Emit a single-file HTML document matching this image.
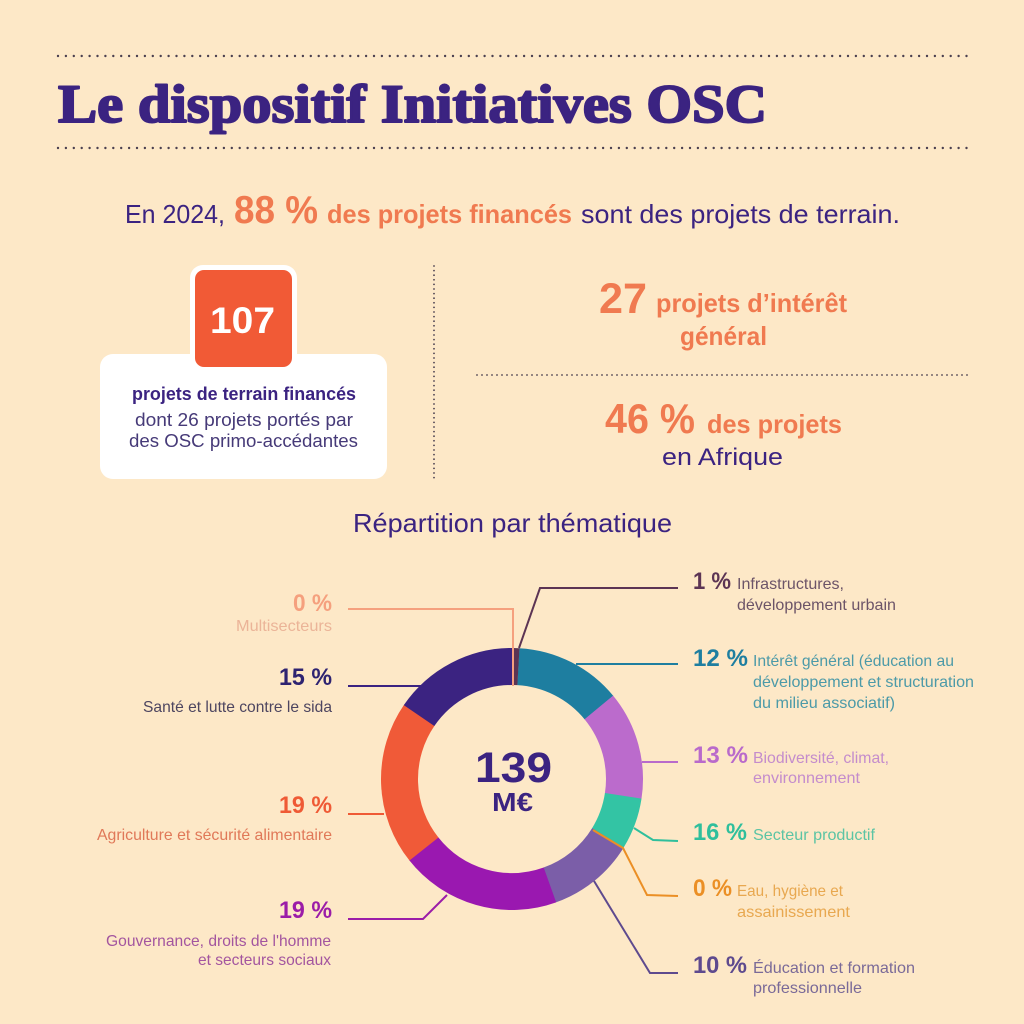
<!DOCTYPE html>
<html><head><meta charset="utf-8"><style>
html,body{margin:0;padding:0;background:#fde8c7;}
svg{display:block;}
text{font-family:"Liberation Sans",sans-serif;}
</style></head><body>
<svg width="1024" height="1024" viewBox="0 0 1024 1024" xmlns="http://www.w3.org/2000/svg">
<rect width="1024" height="1024" fill="#fde8c7"/>

<!-- top dotted lines -->
<line x1="58" y1="56" x2="968" y2="56" stroke="#4b4050" stroke-width="2.4" stroke-linecap="round" stroke-dasharray="0 7.9"/>
<line x1="58" y1="148" x2="968" y2="148" stroke="#4b4050" stroke-width="2.4" stroke-linecap="round" stroke-dasharray="0 7.9"/>

<!-- title -->
<text x="58" y="122" font-weight="bold" font-size="54" fill="#3b2381" stroke="#3b2381" stroke-width="2" stroke-linejoin="round" textLength="709" lengthAdjust="spacingAndGlyphs" style="font-family:'Liberation Serif',serif">Le dispositif Initiatives OSC</text>

<!-- sentence -->
<text x="125" y="223" font-size="26" fill="#3b2381" textLength="100" lengthAdjust="spacingAndGlyphs">En 2024,</text>
<text x="234" y="223" font-size="39" font-weight="bold" fill="#f07a50" textLength="84" lengthAdjust="spacingAndGlyphs">88 %</text>
<text x="327" y="223" font-size="26" font-weight="bold" fill="#f07a50" textLength="245" lengthAdjust="spacingAndGlyphs">des projets financés</text>
<text x="581" y="223" font-size="26" fill="#3b2381" textLength="319" lengthAdjust="spacingAndGlyphs">sont des projets de terrain.</text>

<!-- left box -->
<rect x="100" y="354" width="287" height="125" rx="13" fill="#ffffff"/>
<rect x="190" y="265" width="107" height="107" rx="13" fill="#ffffff"/>
<rect x="195" y="270" width="97" height="97" rx="9" fill="#f15a36"/>
<text x="210" y="333" font-size="37" font-weight="bold" fill="#ffffff" textLength="65" lengthAdjust="spacingAndGlyphs">107</text>
<text x="132" y="400" font-size="18" font-weight="bold" fill="#3b2381" textLength="224" lengthAdjust="spacingAndGlyphs">projets de terrain financés</text>
<text x="135" y="426" font-size="18" fill="#463a78" textLength="218" lengthAdjust="spacingAndGlyphs">dont 26 projets portés par</text>
<text x="129" y="447" font-size="18" fill="#463a78" textLength="229" lengthAdjust="spacingAndGlyphs">des OSC primo-accédantes</text>

<!-- vertical dotted -->
<line x1="434" y1="266" x2="434" y2="480" stroke="#4b4050" stroke-width="1.8" stroke-linecap="round" stroke-dasharray="0 4.6"/>

<!-- right stats -->
<text x="599" y="313" font-size="43" font-weight="bold" fill="#f07a50" textLength="48" lengthAdjust="spacingAndGlyphs">27</text>
<text x="656" y="312" font-size="26" font-weight="bold" fill="#f07a50" textLength="191" lengthAdjust="spacingAndGlyphs">projets d’intérêt</text>
<text x="680" y="345" font-size="26" font-weight="bold" fill="#f07a50" textLength="87" lengthAdjust="spacingAndGlyphs">général</text>
<line x1="477" y1="375" x2="968" y2="375" stroke="#4b4050" stroke-width="1.8" stroke-linecap="round" stroke-dasharray="0 5"/>
<text x="605" y="433" font-size="42" font-weight="bold" fill="#f07a50" textLength="90" lengthAdjust="spacingAndGlyphs">46 %</text>
<text x="707" y="433" font-size="26" font-weight="bold" fill="#f07a50" textLength="135" lengthAdjust="spacingAndGlyphs">des projets</text>
<text x="662" y="465" font-size="24" fill="#3b2381" textLength="121" lengthAdjust="spacingAndGlyphs">en Afrique</text>

<!-- section title -->
<text x="353" y="532" font-size="26" fill="#3b2381" textLength="319" lengthAdjust="spacingAndGlyphs">Répartition par thématique</text>

<!-- donut -->
<g fill="none" stroke-width="37">
<circle cx="512" cy="779" r="112.5" stroke="#1e7ea0" stroke-dasharray="93.4 800" transform="rotate(-86.8 512 779)"/>
<circle cx="512" cy="779" r="112.5" stroke="#bb6bcc" stroke-dasharray="94.9 800" transform="rotate(-39.5 512 779)"/>
<circle cx="512" cy="779" r="112.5" stroke="#33c4a4" stroke-dasharray="45.5 800" transform="rotate(8.6 512 779)"/>
<circle cx="512" cy="779" r="112.5" stroke="#7b5ea8" stroke-dasharray="76.7 800" transform="rotate(31.5 512 779)"/>
<circle cx="512" cy="779" r="112.5" stroke="#9a18b0" stroke-dasharray="140.3 800" transform="rotate(70.3 512 779)"/>
<circle cx="512" cy="779" r="112.5" stroke="#f05a38" stroke-dasharray="143.4 800" transform="rotate(141.5 512 779)"/>
<circle cx="512" cy="779" r="112.5" stroke="#3b2381" stroke-dasharray="110 800" transform="rotate(214.3 512 779)"/>
<circle cx="512" cy="779" r="112.5" stroke="#5c3454" stroke-dasharray="5.3 800" transform="rotate(-89.4 512 779)"/>
</g>
<text x="475" y="782" font-size="43" font-weight="bold" fill="#3b2381" textLength="77" lengthAdjust="spacingAndGlyphs">139</text>
<text x="492" y="811" font-size="26" font-weight="bold" fill="#3b2381" textLength="41" lengthAdjust="spacingAndGlyphs">M€</text>

<!-- leader lines -->
<g fill="none" stroke-width="2">
<polyline points="348,609 513,609 513,686" stroke="#f5a07e"/>
<polyline points="348,686 421,686" stroke="#3b2381"/>
<polyline points="348,814 384,814" stroke="#ef5a35"/>
<polyline points="348,919 423,919 447,895" stroke="#9b1ca8"/>
<polyline points="678,588 540,588 519,648" stroke="#5c3454"/>
<polyline points="678,664 576,664" stroke="#1e7ea0"/>
<polyline points="678,762 642,762" stroke="#b96acb"/>
<polyline points="678,841 653,840 634,828" stroke="#2fbf9c"/>
<polyline points="593,830 623,848 647,895 678,896" stroke="#eb8f25"/>
<polyline points="678,973 650,973 594,881" stroke="#5e4a8e"/>
</g>

<!-- left labels -->
<text x="293" y="611" font-size="24" font-weight="bold" fill="#f5a07e" textLength="39" lengthAdjust="spacingAndGlyphs">0 %</text>
<text x="236" y="631" font-size="16" fill="#ebb498" textLength="96" lengthAdjust="spacingAndGlyphs">Multisecteurs</text>
<text x="279" y="685" font-size="24" font-weight="bold" fill="#2e2371" textLength="53" lengthAdjust="spacingAndGlyphs">15 %</text>
<text x="143" y="712" font-size="16" fill="#4d4560" textLength="189" lengthAdjust="spacingAndGlyphs">Santé et lutte contre le sida</text>
<text x="279" y="813" font-size="24" font-weight="bold" fill="#ef5a35" textLength="53" lengthAdjust="spacingAndGlyphs">19 %</text>
<text x="97" y="840" font-size="16" fill="#e07858" textLength="235" lengthAdjust="spacingAndGlyphs">Agriculture et sécurité alimentaire</text>
<text x="279" y="918" font-size="24" font-weight="bold" fill="#9b1ca8" textLength="53" lengthAdjust="spacingAndGlyphs">19 %</text>
<text x="106" y="946" font-size="16" fill="#a3559f" textLength="225" lengthAdjust="spacingAndGlyphs">Gouvernance, droits de l'homme</text>
<text x="198" y="965" font-size="16" fill="#a3559f" textLength="133" lengthAdjust="spacingAndGlyphs">et secteurs sociaux</text>

<!-- right labels -->
<text x="693" y="589" font-size="24" font-weight="bold" fill="#5c3454" textLength="38" lengthAdjust="spacingAndGlyphs">1 %</text>
<text x="737" y="589" font-size="16" fill="#6c5468" textLength="107" lengthAdjust="spacingAndGlyphs">Infrastructures,</text>
<text x="737" y="610" font-size="16" fill="#6c5468" textLength="159" lengthAdjust="spacingAndGlyphs">développement urbain</text>

<text x="693" y="666" font-size="24" font-weight="bold" fill="#1e7ea0" textLength="55" lengthAdjust="spacingAndGlyphs">12 %</text>
<text x="753" y="666" font-size="16" fill="#4c9aa8" textLength="201" lengthAdjust="spacingAndGlyphs">Intérêt général (éducation au</text>
<text x="753" y="687" font-size="16" fill="#4c9aa8" textLength="221" lengthAdjust="spacingAndGlyphs">développement et structuration</text>
<text x="753" y="708" font-size="16" fill="#4c9aa8" textLength="142" lengthAdjust="spacingAndGlyphs">du milieu associatif)</text>

<text x="693" y="763" font-size="24" font-weight="bold" fill="#b96acb" textLength="55" lengthAdjust="spacingAndGlyphs">13 %</text>
<text x="753" y="763" font-size="16" fill="#c48ccc" textLength="136" lengthAdjust="spacingAndGlyphs">Biodiversité, climat,</text>
<text x="753" y="783" font-size="16" fill="#c48ccc" textLength="107" lengthAdjust="spacingAndGlyphs">environnement</text>

<text x="693" y="840" font-size="24" font-weight="bold" fill="#2fbf9c" textLength="54" lengthAdjust="spacingAndGlyphs">16 %</text>
<text x="753" y="840" font-size="16" fill="#5cc4a4" textLength="122" lengthAdjust="spacingAndGlyphs">Secteur productif</text>

<text x="693" y="896" font-size="24" font-weight="bold" fill="#eb8f25" textLength="39" lengthAdjust="spacingAndGlyphs">0 %</text>
<text x="737" y="896" font-size="16" fill="#e8a850" textLength="106" lengthAdjust="spacingAndGlyphs">Eau, hygiène et</text>
<text x="737" y="917" font-size="16" fill="#e8a850" textLength="113" lengthAdjust="spacingAndGlyphs">assainissement</text>

<text x="693" y="973" font-size="24" font-weight="bold" fill="#5e4a8e" textLength="54" lengthAdjust="spacingAndGlyphs">10 %</text>
<text x="753" y="973" font-size="16" fill="#7a6a98" textLength="162" lengthAdjust="spacingAndGlyphs">Éducation et formation</text>
<text x="753" y="993" font-size="16" fill="#7a6a98" textLength="109" lengthAdjust="spacingAndGlyphs">professionnelle</text>
</svg>
</body></html>
